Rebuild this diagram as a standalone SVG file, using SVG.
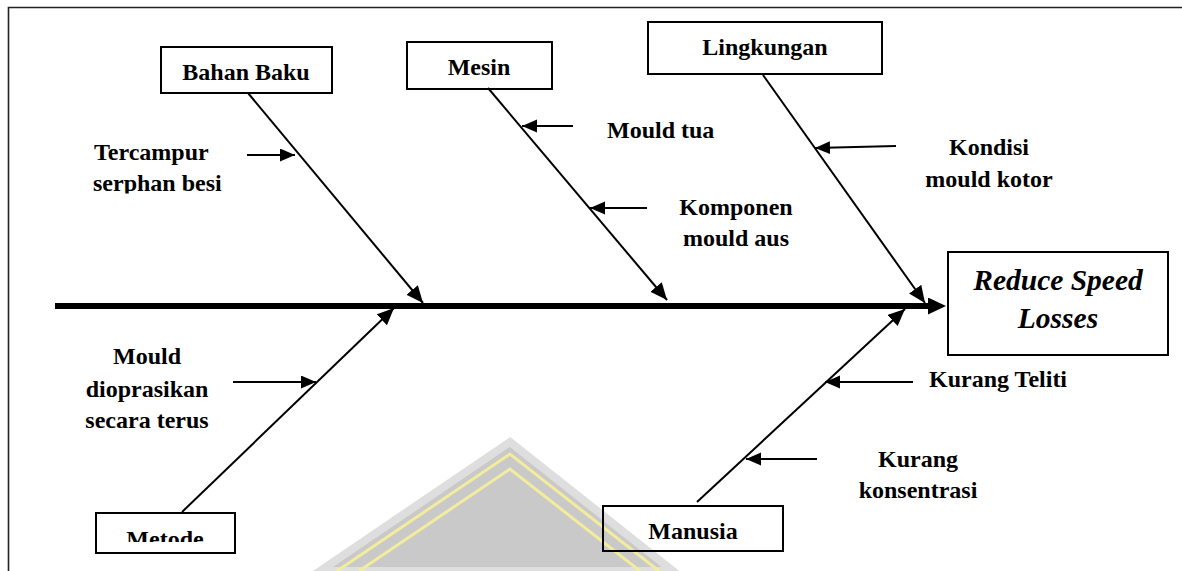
<svg xmlns="http://www.w3.org/2000/svg" width="1182" height="571" viewBox="0 0 1182 571">
<style>
.t{font-family:"Liberation Serif","Times New Roman",serif;font-weight:bold;font-size:24px;fill:#000}
.c{text-anchor:middle}
.eff{font-family:"Liberation Serif","Times New Roman",serif;font-weight:bold;font-style:italic;font-size:29.5px;text-anchor:middle;fill:#000}
.box{fill:none;stroke:#000;stroke-width:2}
.bone{stroke:#000;stroke-width:2;fill:none}
.cause{stroke:#000;stroke-width:2.2;fill:none}
</style>
<defs>
<marker id="ah" markerUnits="userSpaceOnUse" markerWidth="18" markerHeight="16" refX="17" refY="7.5" orient="auto"><path d="M0,0 L17,7.5 L0,15 z" fill="#000"/></marker>
<marker id="ahs" markerUnits="userSpaceOnUse" markerWidth="16" markerHeight="14" refX="15" refY="6.5" orient="auto"><path d="M0,0 L15,6.5 L0,13 z" fill="#000"/></marker>
<marker id="ahm" markerUnits="userSpaceOnUse" markerWidth="20" markerHeight="18" refX="2" refY="8.5" orient="auto"><path d="M0,0 L18,8.5 L0,17 z" fill="#000"/></marker>
<clipPath id="clipSerphan"><rect x="80" y="165" width="160" height="28.5"/></clipPath>
<clipPath id="clipMetode"><rect x="97" y="514" width="137" height="28"/></clipPath>
</defs>
<rect x="0" y="0" width="1182" height="571" fill="#fff"/>
<g id="watermark">
<polygon points="510,442 320,571 673,571" fill="#c9c9c9" stroke="#dedede" stroke-width="8" stroke-linejoin="miter"/>
<polyline points="337,571 510,454 659,571" fill="none" stroke="#f2ec9c" stroke-width="3"/>
<polyline points="359,571 510,469 640,571" fill="none" stroke="#f2ec9c" stroke-width="3"/>
</g>
<path d="M8.5,571 V7.5 H1182" fill="none" stroke="#222" stroke-width="1.6"/>
<g id="connectors">
<line x1="55" y1="306" x2="930" y2="306" stroke="#000" stroke-width="6" marker-end="url(#ahm)"/>
<line class="bone" x1="248" y1="93" x2="423" y2="303" marker-end="url(#ah)"/>
<line class="bone" x1="488" y1="88" x2="667" y2="300" marker-end="url(#ah)"/>
<line class="bone" x1="763" y1="75" x2="925" y2="303" marker-end="url(#ah)"/>
<line class="bone" x1="182" y1="512" x2="394" y2="308" marker-end="url(#ah)"/>
<line class="bone" x1="697" y1="502" x2="905" y2="309" marker-end="url(#ah)"/>
<line class="cause" x1="247" y1="155" x2="295" y2="155" marker-end="url(#ahs)"/>
<line class="cause" x1="573" y1="126" x2="522" y2="126" marker-end="url(#ahs)"/>
<line class="cause" x1="647" y1="208" x2="590" y2="208" marker-end="url(#ahs)"/>
<line class="cause" x1="896" y1="146" x2="815" y2="148" marker-end="url(#ahs)"/>
<line class="cause" x1="233" y1="382" x2="316" y2="382" marker-end="url(#ahs)"/>
<line class="cause" x1="913" y1="382" x2="825" y2="382" marker-end="url(#ahs)"/>
<line class="cause" x1="817" y1="459" x2="746" y2="459" marker-end="url(#ahs)"/>
</g>
<g id="effect">
<rect class="box" x="948" y="252" width="220" height="103"/>
<text class="eff" x="1058" y="290">Reduce Speed</text>
<text class="eff" x="1058" y="328">Losses</text>
</g>
<g id="bahan-baku">
<rect class="box" x="161" y="47" width="171" height="46"/>
<text class="t c" x="246" y="80">Bahan Baku</text>
</g>
<g id="mesin">
<rect class="box" x="407" y="42" width="145" height="47"/>
<text class="t c" x="479" y="75">Mesin</text>
</g>
<g id="lingkungan">
<rect class="box" x="648" y="22" width="234" height="52"/>
<text class="t c" x="765" y="55">Lingkungan</text>
</g>
<g id="metode">
<rect class="box" x="96" y="513" width="139" height="40"/>
<text class="t c" x="165" y="547" clip-path="url(#clipMetode)">Metode</text>
</g>
<g id="manusia">
<rect class="box" x="603" y="506" width="180" height="45"/>
<text class="t c" x="693" y="539">Manusia</text>
</g>
<g id="cause-tercampur">
<text class="t" x="94" y="160">Tercampur</text>
<text class="t" x="93" y="191" clip-path="url(#clipSerphan)">serphan besi</text>
</g>
<g id="cause-mould-tua">
<text class="t" x="607" y="138">Mould tua</text>
</g>
<g id="cause-komponen">
<text class="t c" x="736" y="215">Komponen</text>
<text class="t c" x="736" y="246">mould aus</text>
</g>
<g id="cause-kondisi">
<text class="t c" x="989" y="155">Kondisi</text>
<text class="t c" x="989" y="187">mould kotor</text>
</g>
<g id="cause-mould-dioprasikan">
<text class="t c" x="147" y="364">Mould</text>
<text class="t c" x="147" y="397">dioprasikan</text>
<text class="t c" x="147" y="428">secara terus</text>
</g>
<g id="cause-kurang-teliti">
<text class="t" x="929" y="387">Kurang Teliti</text>
</g>
<g id="cause-kurang-konsentrasi">
<text class="t c" x="918" y="467">Kurang</text>
<text class="t c" x="918" y="498">konsentrasi</text>
</g>
</svg>
